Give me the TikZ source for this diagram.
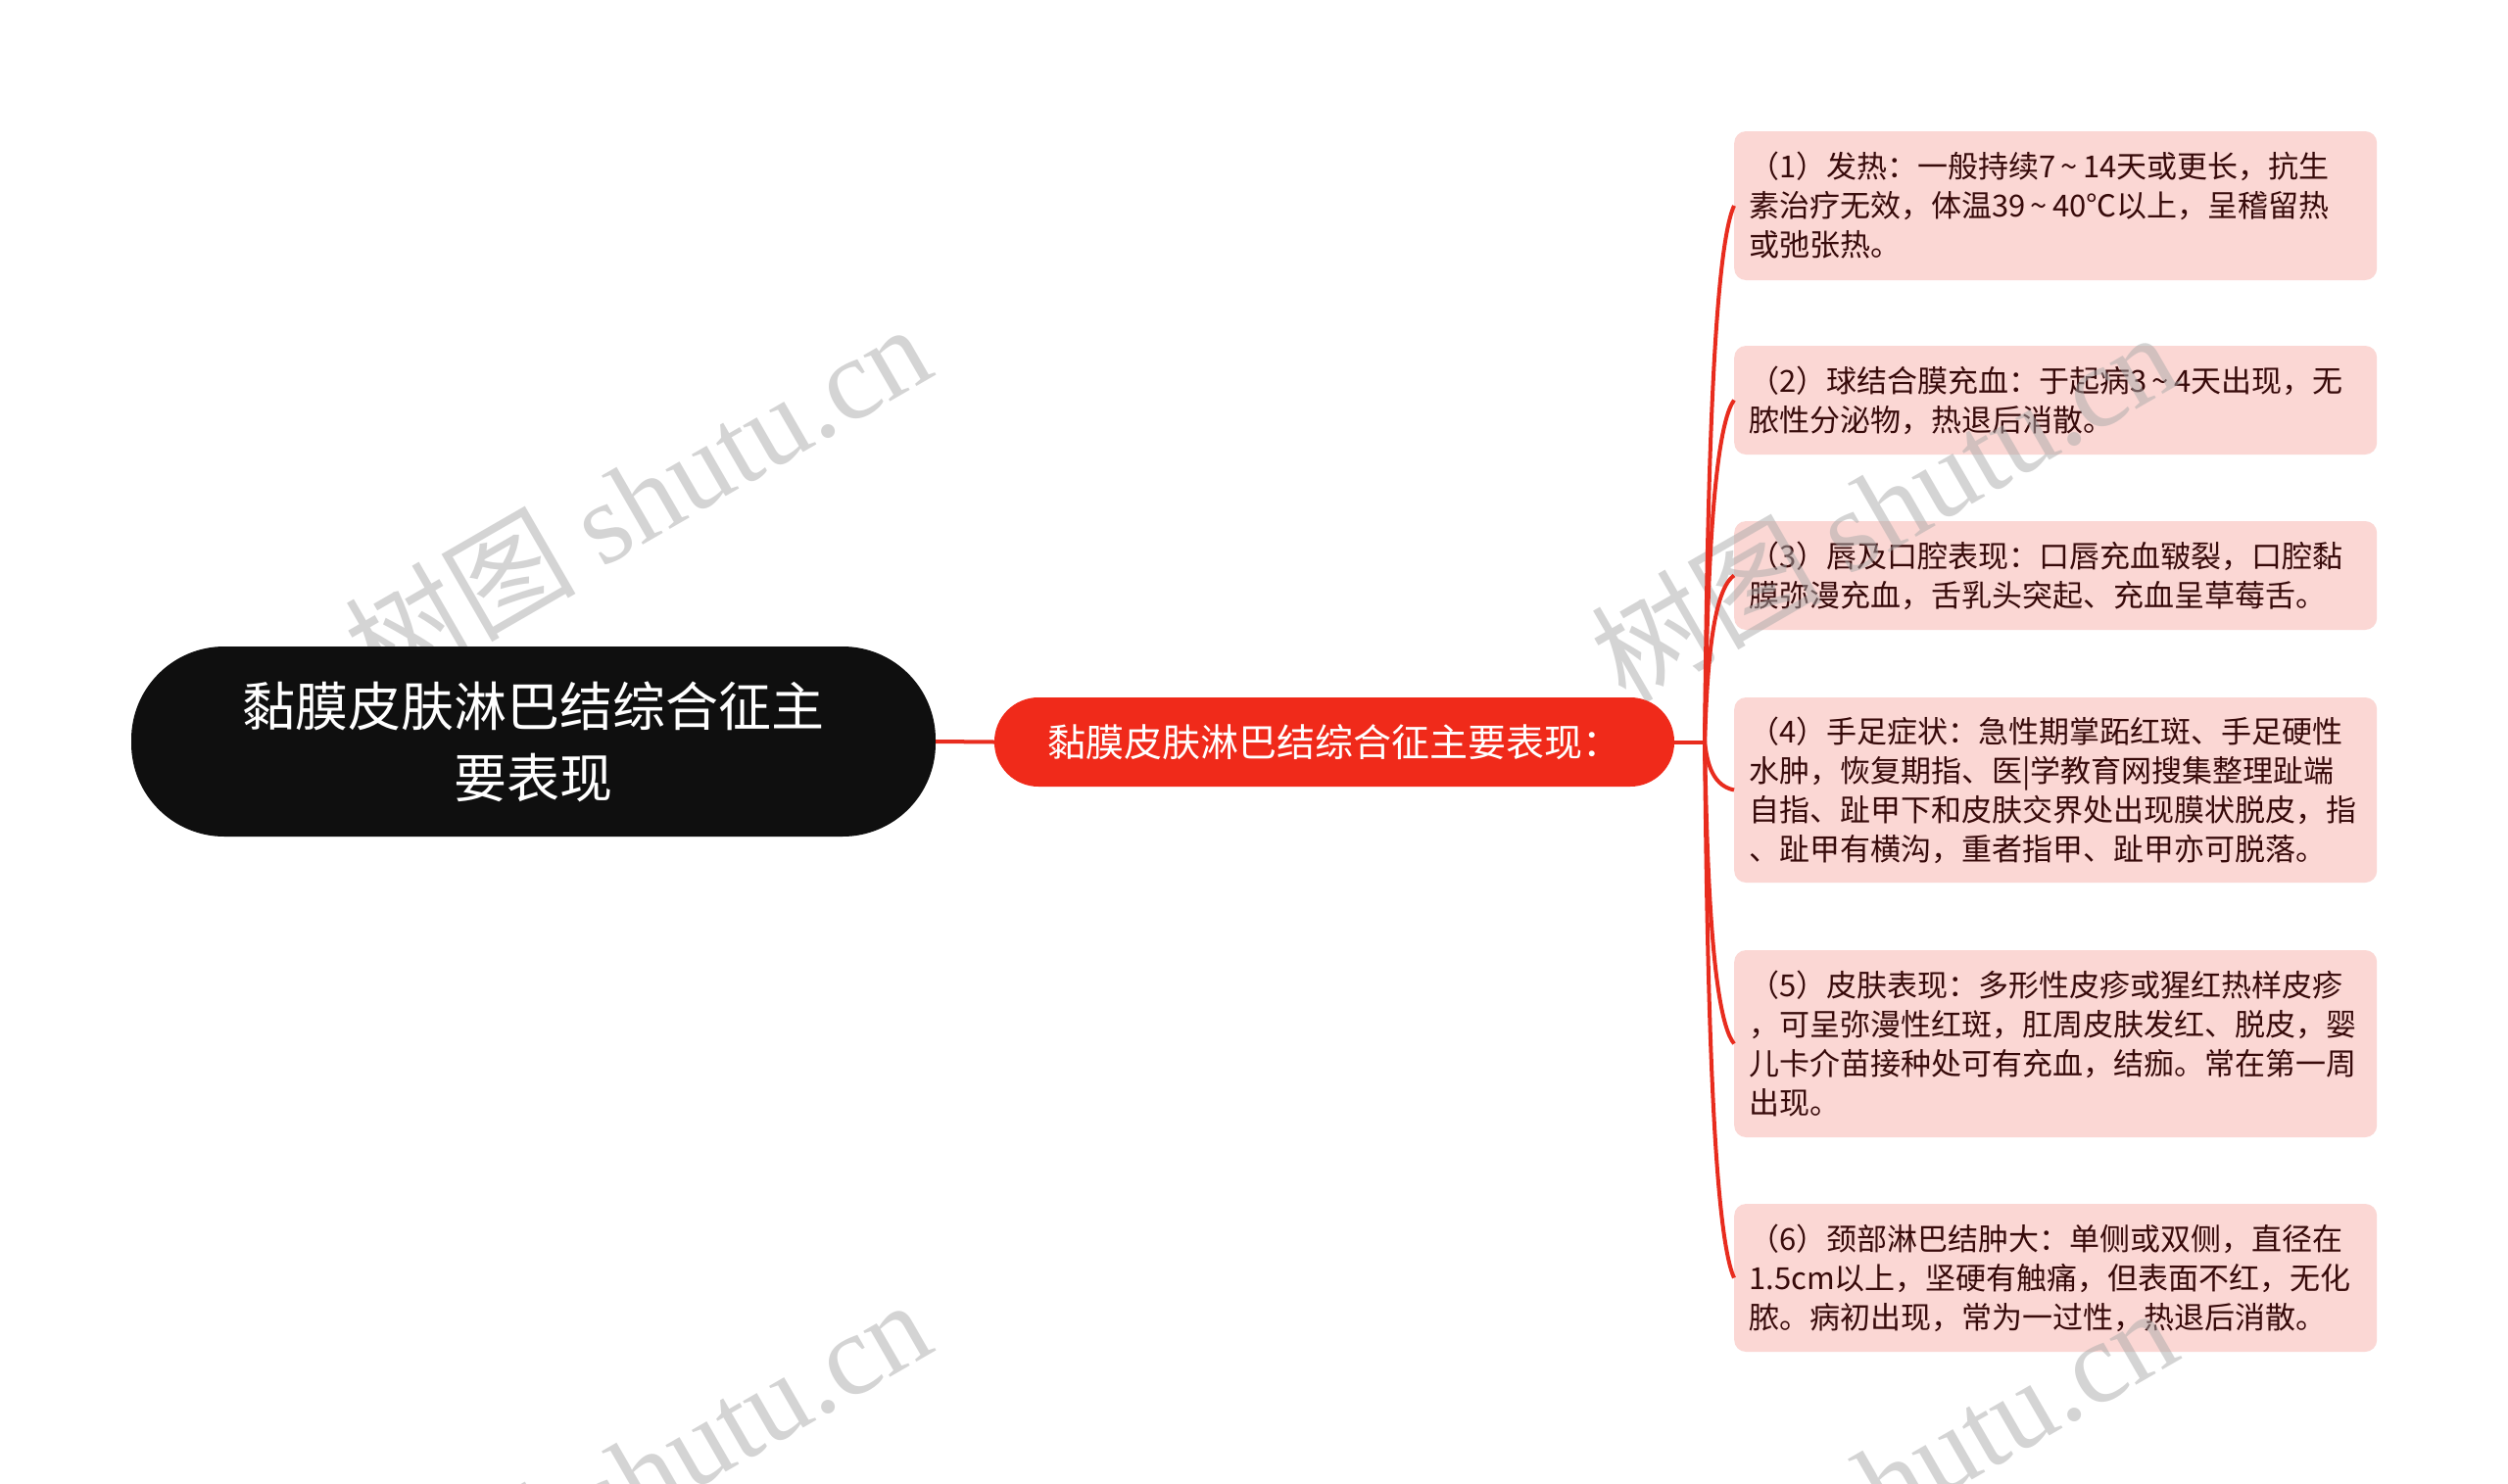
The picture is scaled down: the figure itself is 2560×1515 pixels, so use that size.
\documentclass[tikz,border=0pt]{standalone}
\usepackage{fontspec}
\setmainfont{Noto Sans CJK SC}
\newfontfamily\wmserif{Liberation Serif}
\newcommand\tld{\makebox[0.9em]{\char"7E}}
\definecolor{linkred}{RGB}{232,44,30}
\definecolor{midred}{RGB}{240,42,26}
\definecolor{leafpink}{RGB}{251,215,212}
\definecolor{leaftext}{RGB}{55,10,10}
\definecolor{rootblack}{RGB}{15,15,15}
\definecolor{wmgray}{RGB}{170,170,170}
\tikzset{
  leafbox/.style={rectangle, rounded corners=12pt, fill=leafpink, text=leaftext,
    minimum width=656pt, text width=626pt, inner xsep=15pt, inner ysep=0pt,
    align=left, anchor=west, font=\fontsize{31}{40}\selectfont},
  rootbox/.style={rectangle, rounded corners=95pt, fill=rootblack, text=white,
    minimum width=821pt, minimum height=194pt, align=center,
    font=\fontsize{54}{73}\selectfont},
  midbox/.style={rectangle, rounded corners=45pt, fill=midred, text=white,
    minimum width=694pt, minimum height=91pt, align=center,
    font=\fontsize{39}{46}\selectfont},
  link/.style={draw=linkred, line width=4pt},
  wmark/.style={text=wmgray, text opacity=0.5, rotate=30, inner sep=0pt,
    font=\fontsize{118}{124}\selectfont}
}
\begin{document}
\begin{tikzpicture}[x=1pt,y=-1pt]
\clip (0,0) rectangle (2560,1515);
\fill[white] (0,0) rectangle (2560,1515);

% leaves
\node[leafbox, minimum height=152pt] (L1) at (1770,210) {（1）发热：一般持续7\tld 14天或更长，抗生\\素治疗无效，体温39\tld 40℃以上，呈稽留热\\或弛张热。};
\node[leafbox, minimum height=111pt] (L2) at (1770,408.5) {（2）球结合膜充血：于起病3\tld 4天出现，无\\脓性分泌物，热退后消散。};
\node[leafbox, minimum height=111pt] (L3) at (1770,587.5) {（3）唇及口腔表现：口唇充血皲裂，口腔黏\\膜弥漫充血，舌乳头突起、充血呈草莓舌。};
\node[leafbox, minimum height=189pt] (L4) at (1770,806.5) {（4）手足症状：急性期掌跖红斑、手足硬性\\水肿，恢复期指、医|学教育网搜集整理趾端\\自指、趾甲下和皮肤交界处出现膜状脱皮，指\\、趾甲有横沟，重者指甲、趾甲亦可脱落。};
\node[leafbox, minimum height=191pt] (L5) at (1770,1065.5) {（5）皮肤表现：多形性皮疹或猩红热样皮疹\\，可呈弥漫性红斑，肛周皮肤发红、脱皮，婴\\儿卡介苗接种处可有充血，结痂。常在第一周\\出现。};
\node[leafbox, minimum height=151pt] (L6) at (1770,1304.5) {（6）颈部淋巴结肿大：单侧或双侧，直径在\\1.5cm以上，坚硬有触痛，但表面不红，无化\\脓。病初出现，常为一过性，热退后消散。};

% watermarks
\node[wmark] (w1) at (650,508) {树图 {\wmserif shutu.cn}};
\node[wmark] (w2) at (1922,516) {树图 {\wmserif shutu.cn}};
\node[wmark] (w3) at (650,1504) {树图 {\wmserif shutu.cn}};
\node[wmark] (w4) at (1922,1512) {树图 {\wmserif shutu.cn}};

% main nodes
\node[rootbox] (root) at (544.5,757) {黏膜皮肤淋巴结综合征主\\要表现};
\node[midbox] (mid) at (1362,757.5) {黏膜皮肤淋巴结综合征主要表现：};
\coordinate (j) at (1740,757.5);

% connectors
\draw[link] (root.east) -- (mid.west);
\draw[link] (mid.east) -- (j);
\draw[link] (j) .. controls (1742,593) and (1745,265) .. (L1.west);
\draw[link] (j) .. controls (1742,652) and (1745,443) .. (L2.west);
\draw[link] (j) .. controls (1742,706) and (1745,604.5) .. (L3.west);
\draw[link] (j) .. controls (1742,772) and (1745,801.5) .. (L4.west);
\draw[link] (j) .. controls (1742,850) and (1745,1034.5) .. (L5.west);
\draw[link] (j) .. controls (1742,921) and (1745,1250) .. (L6.west);
\end{tikzpicture}
\end{document}
